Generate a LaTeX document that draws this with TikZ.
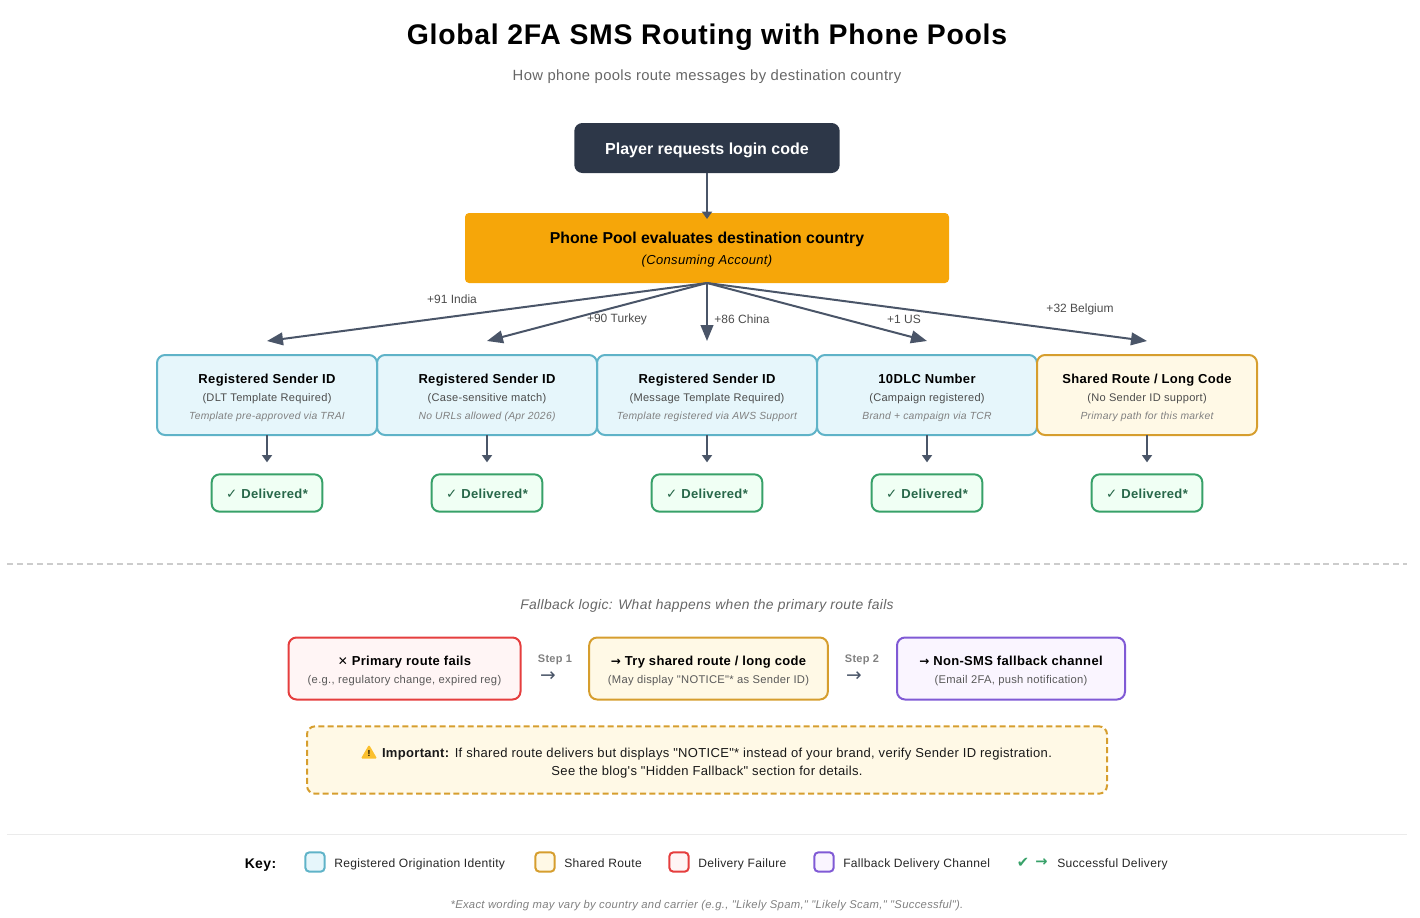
\documentclass[tikz,border=0pt]{standalone}
\usepackage{fontspec}
\defaultfontfeatures[\rmfamily]{}
\setmainfont[LetterSpace=2.5]{Liberation Sans}
\newfontfamily\plainfont{Liberation Sans}
\newfontfamily\symfont{DejaVu Sans}
\usetikzlibrary{arrows.meta,shapes.geometric}

\definecolor{slate}{HTML}{4A5568}
\definecolor{darkbox}{HTML}{2D3748}
\definecolor{poolfill}{HTML}{F6A609}
\definecolor{tealline}{HTML}{5FB3C8}
\definecolor{tealfill}{HTML}{E6F6FB}
\definecolor{goldline}{HTML}{D69E2E}
\definecolor{goldfill}{HTML}{FFF9E6}
\definecolor{redline}{HTML}{E53E3E}
\definecolor{redfill}{HTML}{FFF5F5}
\definecolor{violetline}{HTML}{805AD5}
\definecolor{violetfill}{HTML}{FAF5FF}
\definecolor{greenline}{HTML}{38A169}
\definecolor{greenfill}{HTML}{F0FFF4}
\definecolor{greentext}{HTML}{276749}
\definecolor{warnyellow}{HTML}{FBC02D}

\newcommand{\fsz}[1]{\fontsize{#1}{#1}\selectfont}
\newcommand{\lift}[1]{\rule{0pt}{#1}}
\newcommand{\routetext}[3]{\lift{11.5pt}{\fsz{9.75}\bfseries #1}\\[1pt]{\fsz{8.3}\color{black!70} #2}\\[1.5pt]{\fsz{7.75}\itshape\color{black!50} #3}}
\newcommand{\falltext}[2]{\lift{11pt}{\fsz{9.75}\bfseries #1}\\[1.2pt]{\fsz{8.4}\color{black!65} #2}}

\begin{document}
\begin{tikzpicture}[x=0.75pt,y=-0.75pt,node distance=165pt,
  line/.style={slate,line width=1.5pt},
  bigtip/.style={line,-{Triangle[length=12pt,width=9.5pt]}},
  smalltip/.style={line,-{Triangle[length=5.5pt,width=7.5pt]}},
  box node/.style={rectangle,rounded corners=6pt,draw,line width=1.5pt,inner sep=0pt,outer sep=0pt,align=center},
  route node/.style={box node,minimum width=165pt,minimum height=60pt},
  sender node/.style={route node,draw=tealline,fill=tealfill},
  shared node/.style={route node,draw=goldline,fill=goldfill},
  delivered node/.style={box node,draw=greenline,fill=greenfill,text=greentext,font=\fsz{9.75}\bfseries,minimum width=83pt,minimum height=28pt},
  fall node/.style={box node,minimum height=46.5pt},
  swatch node/.style={box node,rounded corners=3pt,minimum size=14.5pt},
  edge label/.style={font=\plainfont\fsz{9},text=black!70},
  key label/.style={font=\fsz{9.05},text=black!85,anchor=base west,inner sep=0pt}]

  \useasboundingbox (0,0) rectangle (1420,917);

  \node (title) at (707,37.5) {\fsz{21.3}\bfseries Global 2FA SMS Routing with Phone Pools};
  \node (subtitle) at (707,77) [font=\fsz{11.1},text=black!60] {How phone pools route messages by destination country};

  \node[box node,draw=none,fill=darkbox,text=white,font=\plainfont\fsz{12}\bfseries,minimum width=199pt,minimum height=37.5pt] (player) at (707,148) {\lift{11.6pt}Player requests login code};
  \node[box node,rounded corners=3pt,draw=none,fill=poolfill,minimum width=363pt,minimum height=52.5pt] (pool) [below of=player,node distance=75pt] {\lift{11pt}{\plainfont\fsz{11.85}\bfseries Phone Pool evaluates destination country}\\[3.6pt]{\fsz{9.75}\itshape (Consuming Account)}};

  \node[sender node] (s3) [below of=pool,node distance=110.25pt] {\routetext{Registered Sender ID}{(Message Template Required)}{Template registered via AWS Support}};
  \node[sender node] (s2) [left of=s3] {\routetext{Registered Sender ID}{(Case-sensitive match)}{No URLs allowed (Apr 2026)}};
  \node[sender node] (s1) [left of=s2] {\routetext{Registered Sender ID}{(DLT Template Required)}{Template pre-approved via TRAI}};
  \node[sender node] (s4) [right of=s3] {\routetext{10DLC Number}{(Campaign registered)}{Brand + campaign via TCR}};
  \node[shared node] (s5) [right of=s4] {\routetext{Shared Route / Long Code}{(No Sender ID support)}{Primary path for this market}};

  \foreach \i in {1,...,5} {
    \node[delivered node] (d\i) [below of=s\i,node distance=73.5pt] {\lift{9pt}{\symfont\fsz{10}✓} Delivered*};
    \draw[smalltip,shorten >=9pt] (s\i) -- (d\i);
    \coordinate (t\i) at ([yshift=10.5pt]s\i.north);
    \draw[bigtip] (pool.south) -- (t\i);
  }
  \draw[smalltip,shorten >=-4.5pt] (player) -- (pool);

  \node[edge label] (l1) at (452,299) {+91 India};
  \node[edge label] (l2) at (617,319) {+90 Turkey};
  \node[edge label] (l3) at (742,319) {+86 China};
  \node[edge label] (l4) at (904,319) {+1 US};
  \node[edge label] (l5) at (1080,309.5) {+32 Belgium};

  \draw[black!20,line width=1.5pt,dash pattern=on 4.5pt off 2.98pt] (7,564) -- (1407,564);

  \node (falltitle) at (707,606) [font=\fsz{10.4}\itshape,text=black!60] {Fallback logic: What happens when the primary route fails};

  \node[fall node,draw=redline,fill=redfill,minimum width=174pt] (fail) at (404.5,668.5) {\falltext{{\symfont\fsz{9}✕} Primary route fails}{(e.g., regulatory change, expired reg)}};
  \node[fall node,draw=goldline,fill=goldfill,minimum width=179pt] (try) at (708.5,668.5) {\falltext{{\symfont\fsz{9}→} Try shared route / long code}{(May display "NOTICE"* as Sender ID)}};
  \node[fall node,draw=violetline,fill=violetfill,minimum width=171pt] (nonsms) at (1011,668.5) {\falltext{{\symfont\fsz{9}→} Non-SMS fallback channel}{(Email 2FA, push notification)}};

  \node (step1) at (555,660) [font=\fsz{8.25}\bfseries,text=black!50] {Step 1};
  \node (arrow1) at (548,677) [font=\symfont\fsz{14},text=slate] {→};
  \node (step2) at (862,660) [font=\fsz{8.25}\bfseries,text=black!50] {Step 2};
  \node (arrow2) at (854,677) [font=\symfont\fsz{14},text=slate] {→};

  \node[box node,draw=goldline,fill=goldfill,dash pattern=on 4.5pt off 2.5pt,minimum width=600pt,minimum height=50.5pt] (note) at (707,760) {};
  \node (notetext) at (707,763) [align=center,font=\fsz{9.75},text=black!90] {\hspace{15pt}\textbf{Important:} If shared route delivers but displays "NOTICE"* instead of your brand, verify Sender ID registration.\\[3.6pt]See the blog's "Hidden Fallback" section for details.};
  \node[regular polygon,regular polygon sides=3,fill=warnyellow,inner sep=0pt,minimum size=14pt,rounded corners=1pt,font=\fsz{6.5}\bfseries] (warn) at (369,754) {!};

  \draw[black!8,line width=0.75pt] (7,834.5) -- (1407,834.5);

  \node (key) at (260.5,865) [font=\fsz{10.5}\bfseries] {Key:};
  \node[swatch node,draw=tealline,fill=tealfill] (k1) at (315,862) {};
  \node[key label] (k1l) at (334,867) {Registered Origination Identity};
  \node[swatch node,draw=goldline,fill=goldfill] (k2) at (545,862) {};
  \node[key label] (k2l) at (564,867) {Shared Route};
  \node[swatch node,draw=redline,fill=redfill] (k3) at (679,862) {};
  \node[key label] (k3l) at (698,867) {Delivery Failure};
  \node[swatch node,draw=violetline,fill=violetfill] (k4) at (824,862) {};
  \node[key label] (k4l) at (843,867) {Fallback Delivery Channel};
  \node (k5a) at (1023,863) [font=\symfont\fsz{11},text=greenline] {✔};
  \node (k5b) at (1041.5,863) [font=\symfont\bfseries\fsz{11},text=greenline] {→};
  \node[key label] (k5l) at (1057,867) {Successful Delivery};

  \node (footnote) at (707,906) [font=\fsz{8.47}\itshape,text=black!50] {*Exact wording may vary by country and carrier (e.g., "Likely Spam," "Likely Scam," "Successful").};

\end{tikzpicture}
\end{document}
